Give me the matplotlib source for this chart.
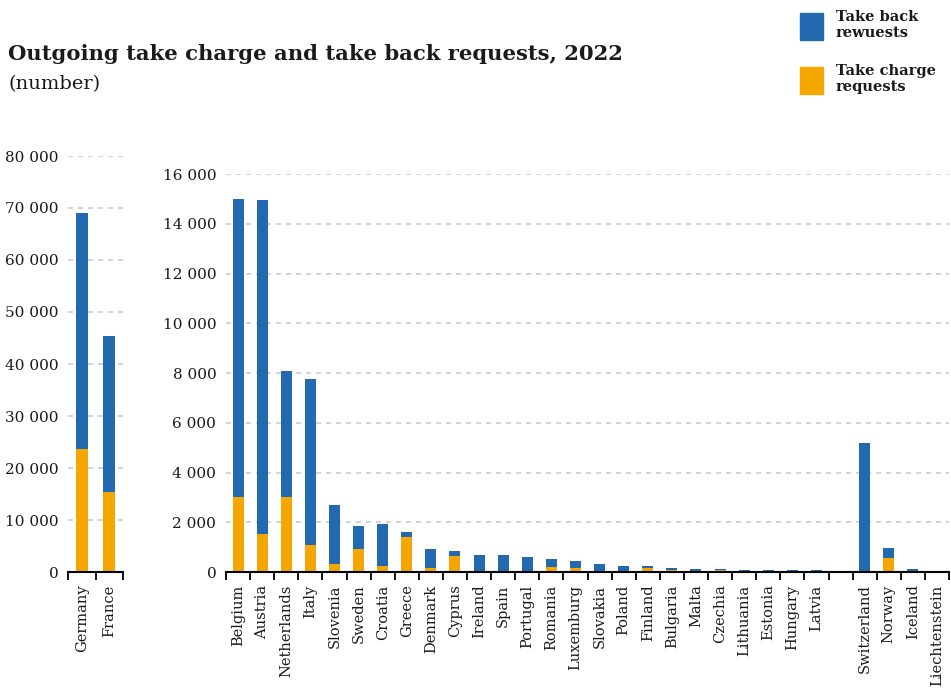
import numpy as np
import matplotlib
matplotlib.use("Agg")
import matplotlib.pyplot as plt
from matplotlib.patches import Rectangle

plt.rcParams["font.family"] = "DejaVu Serif"

BLUE = "#2369af"
ORANGE = "#f6a600"
TEXT = "#1a1a1a"

# large countries (left panel)
big_countries = ["Germany", "France"]
big_take_charge = [23700, 15300]
big_take_back = [45400, 30100]

# other countries (right panel); the last four are non-EU, shown after a gap
countries = ["Belgium", "Austria", "Netherlands", "Italy", "Slovenia", "Sweden",
             "Croatia", "Greece", "Denmark", "Cyprus", "Ireland", "Spain",
             "Portugal", "Romania", "Luxemburg", "Slovakia", "Poland", "Finland",
             "Bulgaria", "Malta", "Czechia", "Lithuania", "Estonia", "Hungary",
             "Latvia", "Switzerland", "Norway", "Iceland", "Liechtenstein"]
take_charge = [3000, 1540, 3000, 1070, 340, 910, 230, 1395, 145, 625, 20, 55,
               55, 218, 177, 10, 55, 177, 95, 55, 95, 5, 5, 5, 5,
               55, 550, 55, 0]
take_back = [12010, 13430, 5070, 6680, 2340, 930, 1690, 205, 770, 205, 646, 611,
             530, 285, 285, 330, 203, 81, 82, 81, 41, 60, 60, 60, 60,
             5125, 430, 80, 56]
n_eu = 25

fig = plt.figure(figsize=(9.51, 6.90), dpi=100)


def style_axis(ax, n_slots, ymax, ystep):
    ax.set_xlim(-0.5, n_slots - 0.5)
    ax.set_ylim(0, ymax)
    ax.set_yticks(np.arange(0, ymax + 1, ystep))
    ax.set_yticklabels([f"{int(v):,}".replace(",", " ") for v in ax.get_yticks()])
    ax.yaxis.grid(True, color="#cccccc", linestyle=(0, (3, 3)), linewidth=1.2)
    ax.set_axisbelow(True)
    for s in ["top", "right", "left"]:
        ax.spines[s].set_visible(False)
    ax.spines["bottom"].set_linewidth(1.5)
    ax.spines["bottom"].set_color("black")
    ax.set_xticks(np.arange(-0.5, n_slots), minor=True)
    ax.tick_params(axis="x", which="minor", length=6, width=1.3, color="black")
    ax.tick_params(axis="x", which="major", length=0, pad=9, labelsize=10.5,
                   labelrotation=90, labelcolor=TEXT)
    ax.tick_params(axis="y", length=0, pad=7, labelsize=11, labelcolor=TEXT)


# left panel
ax1 = fig.add_axes([68 / 951, 118 / 690, 55 / 951, 416 / 690])
x1 = np.arange(len(big_countries))
ax1.bar(x1, big_take_charge, width=0.42, color=ORANGE)
ax1.bar(x1, big_take_back, width=0.42, bottom=big_take_charge, color=BLUE)
style_axis(ax1, len(big_countries), 80000, 10000)
ax1.set_xticks(x1)
ax1.set_xticklabels(big_countries, va="top")

# right panel
ax2 = fig.add_axes([226 / 951, 118 / 690, 723 / 951, 398 / 690])
x2 = np.array([i if i < n_eu else i + 1 for i in range(len(countries))])
ax2.bar(x2, take_charge, width=0.46, color=ORANGE)
ax2.bar(x2, take_back, width=0.46, bottom=take_charge, color=BLUE)
style_axis(ax2, len(countries) + 1, 16000, 2000)
ax2.set_xticks(x2)
ax2.set_xticklabels(countries, va="top")

# title
fig.text(8 / 951, 1 - 60 / 690, "Outgoing take charge and take back requests, 2022",
         fontsize=15.2, fontweight="bold", color=TEXT, ha="left", va="baseline")
fig.text(8 / 951, 1 - 89 / 690, "(number)", fontsize=14, color=TEXT,
         ha="left", va="baseline")

# legend
for y0, col, label in [(13, BLUE, "Take back\nrewuests"),
                       (67, ORANGE, "Take charge\nrequests")]:
    fig.patches.append(Rectangle((800 / 951, 1 - (y0 + 27) / 690), 23 / 951, 27 / 690,
                                 transform=fig.transFigure, color=col))
    fig.text(836 / 951, 1 - (y0 - 3) / 690, label, fontsize=10.5, fontweight="bold",
             color=TEXT, ha="left", va="top", linespacing=1.2)

fig.savefig("out.png", dpi=100)
